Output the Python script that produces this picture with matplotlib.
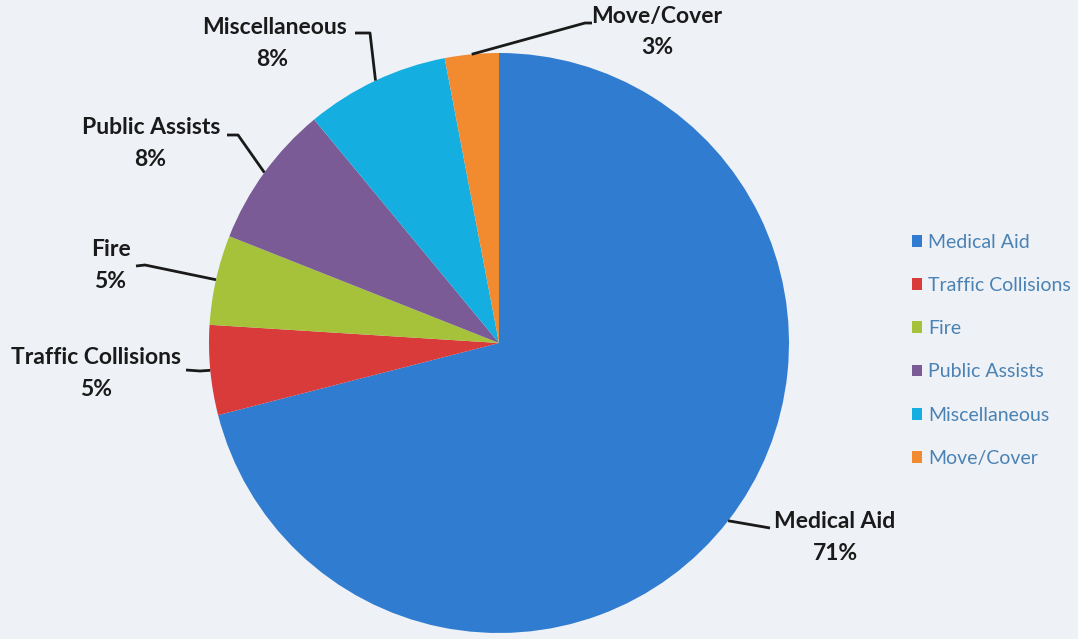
import numpy as np
import matplotlib.pyplot as plt

categories = ['Medical Aid', 'Traffic Collisions', 'Fire', 'Public Assists',
              'Miscellaneous', 'Move/Cover']
percents = [71, 5, 5, 8, 8, 3]
colors = ['#2F7CD0', '#D93A3A', '#A5C23A', '#7A5B95', '#14AFE0', '#F28A30']

# label placement in pixels: name centre, percent centre, leader elbow/end
name_pos = [(835, 521), (96, 357), (111, 250), (151, 128), (275, 28), (657, 17)]
pct_pos = [(835, 553), (96, 389), (110, 282), (150, 159), (272, 60), (657, 47)]
leader_pts = [
    [(770, 528)],
    [(200, 371), (186, 370)],
    [(145, 265), (136, 266)],
    [(238, 135), (227, 135)],
    [(370, 33), (355, 33)],
    [(585, 23), (592, 23)],
]

W, H = 1078, 639
cx, cy, R = 499, 343, 290
bg = '#EEF1F6'

plt.rcParams['font.family'] = ['Lato', 'DejaVu Sans']

fig = plt.figure(figsize=(W / 100, H / 100), dpi=100, facecolor=bg)
ax = fig.add_axes([(cx - R) / W, (H - cy - R) / H, 2 * R / W, 2 * R / H])
ax.set_facecolor(bg)

wedges, _ = ax.pie(percents, colors=colors, startangle=90, counterclock=False,
                   radius=1, wedgeprops=dict(linewidth=0))
ax.set_xlim(-1, 1)
ax.set_ylim(-1, 1)
ax.axis('off')


def to_data(px, py):
    return (px - cx) / R, (cy - py) / R


for w, name, pct, npos, ppos, pts in zip(wedges, categories, percents,
                                         name_pos, pct_pos, leader_pts):
    mid = np.deg2rad((w.theta1 + w.theta2) / 2)
    xs = [np.cos(mid)]
    ys = [np.sin(mid)]
    for p in pts:
        x, y = to_data(*p)
        xs.append(x)
        ys.append(y)
    ax.plot(xs, ys, color='#1a1a1a', lw=2, clip_on=False, solid_capstyle='butt')
    ax.text(*to_data(*npos), name, ha='center', va='center', fontsize=16.5,
            fontweight='bold', color='#1a1a1a', clip_on=False)
    ax.text(*to_data(*ppos), f'{pct}%', ha='center', va='center', fontsize=16.5,
            fontweight='bold', color='#1a1a1a', clip_on=False)

fig.legend(wedges, categories, loc='upper left',
           bbox_to_anchor=(902 / W, 1 - 224 / H), frameon=False, fontsize=14,
           labelcolor='#4A82B4', handlelength=0.55, handleheight=0.55,
           handletextpad=0.3, labelspacing=1.35, borderpad=0)

fig.savefig('out.png', dpi=100, facecolor=bg)
